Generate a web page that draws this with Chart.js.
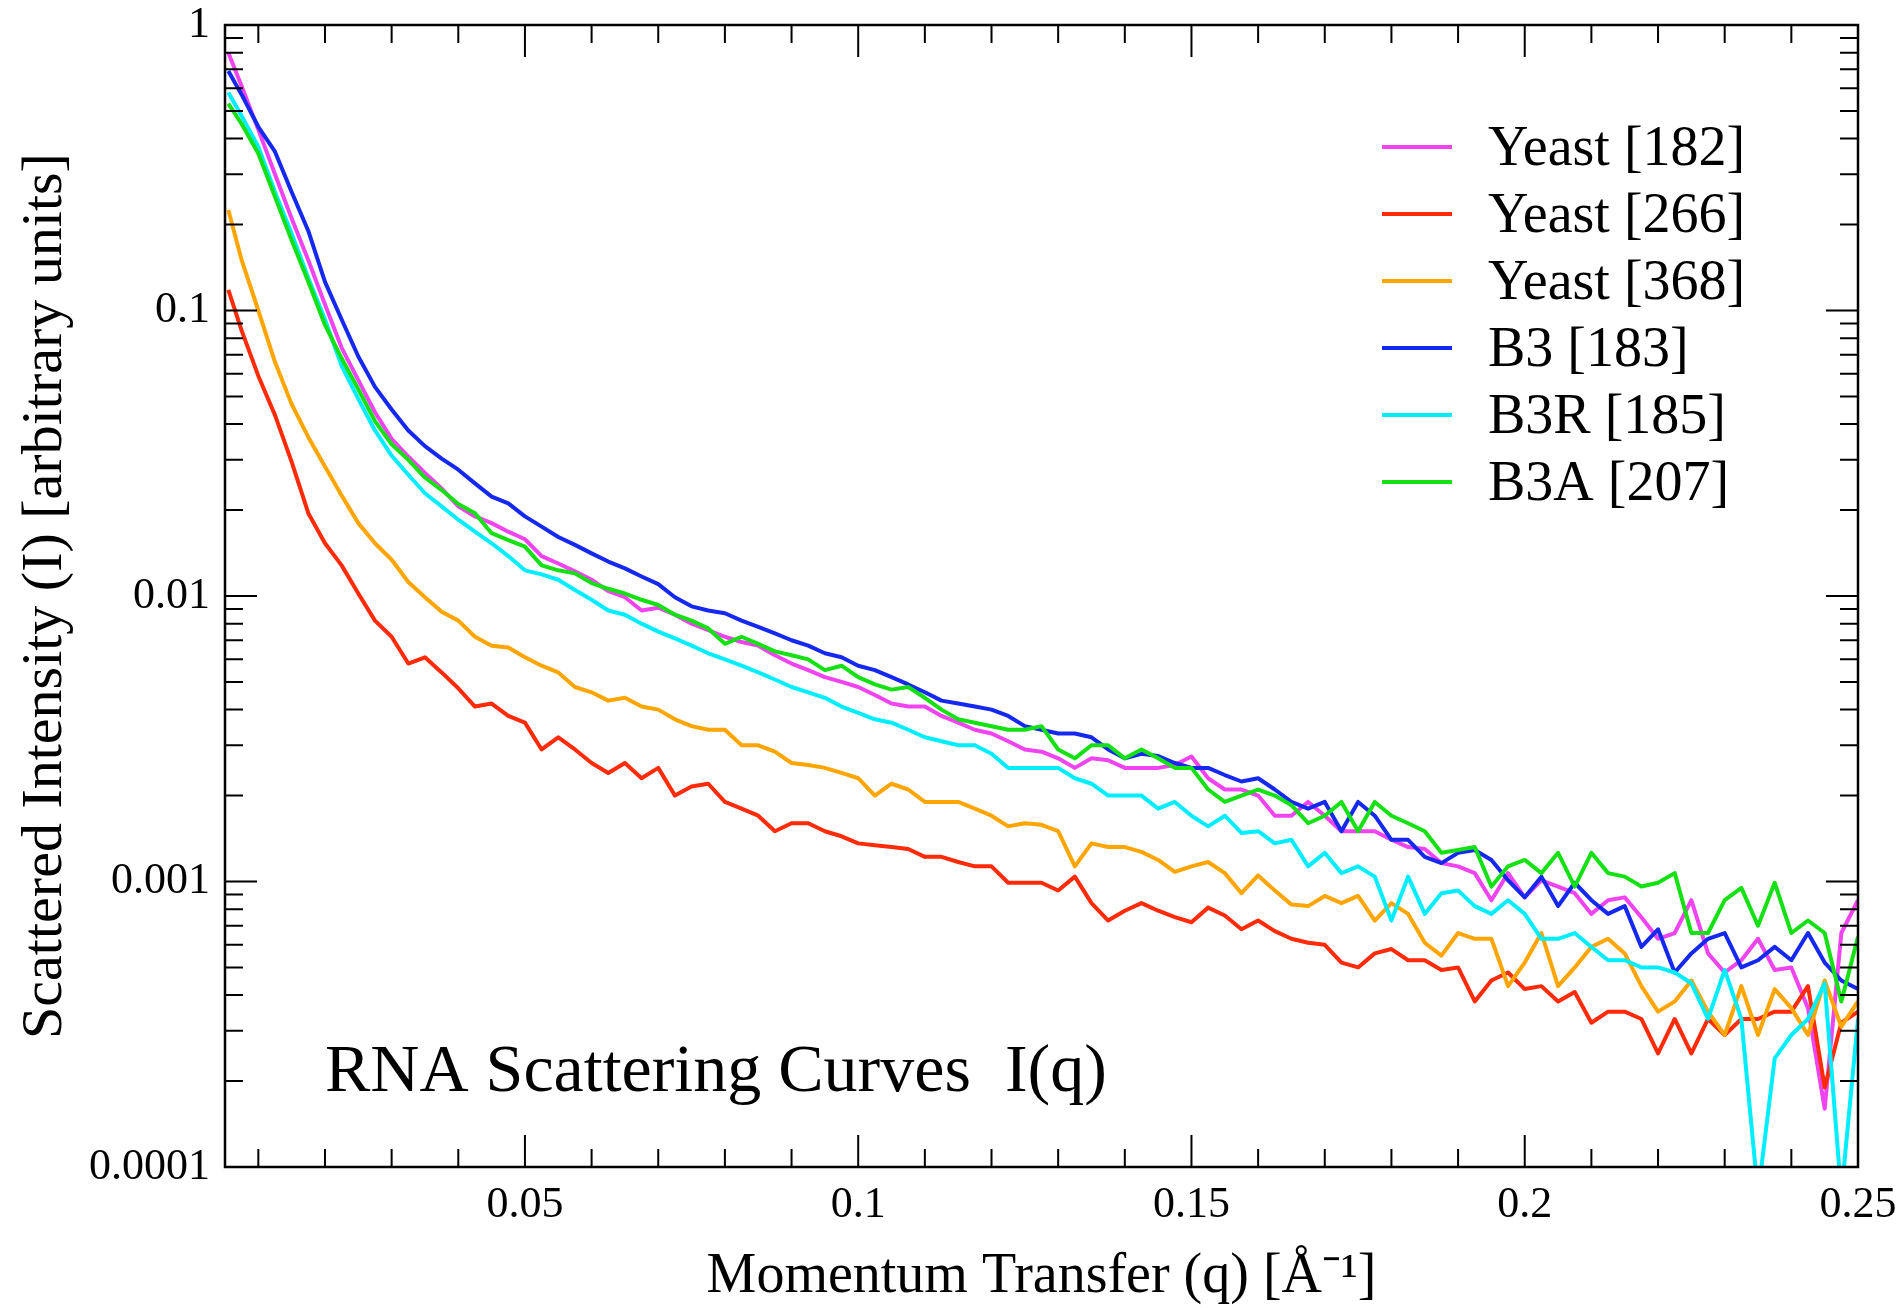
<!DOCTYPE html>
<html>
<head>
<meta charset="utf-8">
<title>RNA Scattering Curves</title>
<script src="https://cdn.jsdelivr.net/npm/chart.js@4.4.1/dist/chart.umd.min.js"></script>
<style>
  html, body { margin: 0; padding: 0; background: #fff; }
  #wrap { width: 1904px; height: 1308px; }
</style>
</head>
<body>
<div id="wrap"><canvas id="grafico"></canvas></div>
<script>
// momentum transfer q [1/A]
var q = [0.0055, 0.0075, 0.01, 0.0125, 0.015, 0.0175, 0.02, 0.0225, 0.025, 0.0275,
  0.03, 0.0325, 0.035, 0.0375, 0.04, 0.0425, 0.045, 0.0475, 0.05, 0.0525,
  0.055, 0.0575, 0.06, 0.0625, 0.065, 0.0675, 0.07, 0.0725, 0.075, 0.0775,
  0.08, 0.0825, 0.085, 0.0875, 0.09, 0.0925, 0.095, 0.0975, 0.1, 0.1025,
  0.105, 0.1075, 0.11, 0.1125, 0.115, 0.1175, 0.12, 0.1225, 0.125, 0.1275,
  0.13, 0.1325, 0.135, 0.1375, 0.14,
  0.1425, 0.145, 0.1475, 0.15, 0.1525, 0.155, 0.1575, 0.16, 0.1625, 0.165,
  0.1675, 0.17, 0.1725, 0.175, 0.1775, 0.18, 0.1825, 0.185, 0.1875, 0.19,
  0.1925, 0.195, 0.1975, 0.2, 0.2025, 0.205, 0.2075, 0.21, 0.2125, 0.215,
  0.2175, 0.22, 0.2225, 0.225, 0.2275, 0.23, 0.2325, 0.235, 0.2375, 0.24,
  0.2425, 0.245, 0.2475, 0.25];

var yeast182 = [0.80, 0.61, 0.43, 0.30, 0.21, 0.15, 0.105, 0.074, 0.057, 0.044,
  0.0355, 0.0308, 0.027, 0.0238, 0.0206, 0.019, 0.018, 0.0168, 0.0158, 0.0138,
  0.013, 0.0122, 0.0114, 0.0104, 0.0099, 0.0089, 0.0091, 0.0086, 0.0080, 0.0076,
  0.0072, 0.0069, 0.0067, 0.0062, 0.0058, 0.0055, 0.0052, 0.0050, 0.0048, 0.0045,
  0.0042, 0.0041, 0.0041, 0.0038, 0.0036, 0.0034, 0.0033, 0.0031, 0.0029, 0.00285,
  0.0027, 0.0025, 0.0027, 0.00266, 0.0025,
  0.0025, 0.0025, 0.00256, 0.00274, 0.0023, 0.0021, 0.0021, 0.0020, 0.0017, 0.0017,
  0.0019, 0.0017, 0.0015, 0.0015, 0.0015, 0.0014, 0.00132, 0.0013, 0.00116, 0.00113,
  0.00107, 0.00086, 0.00107, 0.00088, 0.00101, 0.00096, 0.00091, 0.00077, 0.00086, 0.00088,
  0.00075, 0.00063, 0.00066, 0.00086, 0.00056, 0.00048, 0.00053, 0.00063, 0.00049, 0.0005,
  0.00036, 0.00016, 0.00066, 0.00086];

var yeast266 = [0.118, 0.085, 0.059, 0.043, 0.0295, 0.0195, 0.0153, 0.0128, 0.0102, 0.0082,
  0.0072, 0.0058, 0.0061, 0.0054, 0.00475, 0.0041, 0.0042, 0.0038, 0.0036, 0.0029,
  0.0032, 0.0029, 0.0026, 0.0024, 0.0026, 0.0023, 0.0025, 0.0020, 0.00215, 0.0022,
  0.0019, 0.0018, 0.0017, 0.0015, 0.0016, 0.0016, 0.0015, 0.00144, 0.00136, 0.00134,
  0.00132, 0.0013, 0.00122, 0.00122, 0.00117, 0.00113, 0.00113, 0.00099, 0.00099, 0.00099,
  0.00093, 0.00104, 0.00084, 0.00073, 0.00079,
  0.00084, 0.00079, 0.00075, 0.00072, 0.00081, 0.00076, 0.00068, 0.00073, 0.00067, 0.00063,
  0.00061, 0.0006, 0.00052, 0.0005, 0.00056, 0.00058, 0.00053, 0.00053, 0.00049, 0.0005,
  0.00038, 0.00045, 0.00048, 0.00042, 0.00043, 0.00038, 0.00041, 0.00032, 0.00035, 0.00035,
  0.00033, 0.00025, 0.00033, 0.00025, 0.00033, 0.00029, 0.00033, 0.00033, 0.00035, 0.00035,
  0.00043, 0.00019, 0.00032, 0.00035];

var yeast368 = [0.225, 0.15, 0.10, 0.066, 0.047, 0.036, 0.0284, 0.0225, 0.018, 0.0153,
  0.0134, 0.0112, 0.0099, 0.0088, 0.0082, 0.0072, 0.0067, 0.0066, 0.0061, 0.0057,
  0.0054, 0.0048, 0.0046, 0.0043, 0.0044, 0.0041, 0.0040, 0.0037, 0.0035, 0.0034,
  0.0034, 0.0030, 0.0030, 0.00285, 0.0026, 0.00256, 0.0025, 0.0024, 0.0023, 0.0020,
  0.0022, 0.0021, 0.0019, 0.0019, 0.0019, 0.0018, 0.0017, 0.00156, 0.0016, 0.00158,
  0.0015, 0.00113, 0.00136, 0.00132, 0.00132,
  0.00127, 0.00119, 0.00108, 0.00113, 0.00117, 0.00107, 0.00091, 0.00105, 0.00093, 0.00083,
  0.00082, 0.00089, 0.00084, 0.00089, 0.00073, 0.00084, 0.00077, 0.00061, 0.00055, 0.00066,
  0.00063, 0.00063, 0.00043, 0.00052, 0.00066, 0.00043, 0.0005, 0.00059, 0.00063, 0.00056,
  0.00043, 0.00035, 0.00038, 0.00045, 0.00035, 0.00029, 0.00043, 0.00029, 0.00042, 0.00036,
  0.00029, 0.00045, 0.00031, 0.00038];

var b3 = [0.69, 0.57, 0.44, 0.36, 0.26, 0.19, 0.126, 0.093, 0.069, 0.054,
  0.045, 0.038, 0.0335, 0.0303, 0.0277, 0.0248, 0.0223, 0.0211, 0.019, 0.0175,
  0.0161, 0.0151, 0.0141, 0.0132, 0.0125, 0.0117, 0.011, 0.0099, 0.0092, 0.0089,
  0.0087, 0.0082, 0.0078, 0.0074, 0.0070, 0.0067, 0.0063, 0.0061, 0.0057, 0.0055,
  0.0052, 0.0049, 0.0046, 0.0043, 0.0042, 0.0041, 0.0040, 0.0038, 0.0035, 0.0034,
  0.0033, 0.0033, 0.0032, 0.0029, 0.0027,
  0.0028, 0.00275, 0.0026, 0.0025, 0.0025, 0.00236, 0.00224, 0.0023, 0.0021, 0.0019,
  0.0018, 0.0019, 0.0015, 0.0019, 0.0017, 0.0014, 0.0014, 0.00122, 0.00116, 0.00126,
  0.00129, 0.00119, 0.00101, 0.00088, 0.00104, 0.00082, 0.00099, 0.00086, 0.00077, 0.00082,
  0.00059, 0.00068, 0.00048, 0.00056, 0.00063, 0.00066, 0.0005, 0.00053, 0.00059, 0.00053,
  0.00066, 0.00052, 0.00045, 0.00042];

var b3r = [0.58, 0.48, 0.375, 0.26, 0.186, 0.13, 0.093, 0.064, 0.049, 0.038,
  0.031, 0.0266, 0.0229, 0.0206, 0.0185, 0.0168, 0.0153, 0.0138, 0.0123, 0.0119,
  0.0114, 0.0105, 0.0097, 0.0089, 0.0086, 0.008, 0.0075, 0.0071, 0.0067, 0.0063,
  0.0060, 0.0057, 0.0054, 0.0051, 0.0048, 0.0046, 0.0044, 0.0041, 0.0039, 0.0037,
  0.0036, 0.0034, 0.0032, 0.0031, 0.0030, 0.0030, 0.0028, 0.0025, 0.0025, 0.0025,
  0.0025, 0.0023, 0.0022, 0.0020, 0.0020,
  0.0020, 0.0018, 0.0019, 0.0017, 0.00156, 0.0017, 0.00148, 0.0015, 0.00136, 0.0014,
  0.00113, 0.00126, 0.00107, 0.00113, 0.00104, 0.00073, 0.00104, 0.00077, 0.00091, 0.00093,
  0.00082, 0.00077, 0.00086, 0.00077, 0.00063, 0.00063, 0.00066, 0.00059, 0.00053, 0.00053,
  0.0005, 0.0005, 0.00048, 0.00044, 0.00033, 0.00049, 0.00033, 0.00008, 0.00024, 0.00029,
  0.00033, 0.00044, 0.00008, 0.00033];

var b3a = [0.53, 0.45, 0.355, 0.25, 0.176, 0.126, 0.089, 0.068, 0.053, 0.041,
  0.034, 0.030, 0.026, 0.0235, 0.021, 0.0195, 0.0166, 0.0157, 0.0149, 0.0128,
  0.0123, 0.0120, 0.0111, 0.0106, 0.0102, 0.0097, 0.0093, 0.0086, 0.0082, 0.0077,
  0.0068, 0.0072, 0.0068, 0.0064, 0.0062, 0.0060, 0.0055, 0.0057, 0.0052, 0.0049,
  0.0047, 0.0048, 0.0044, 0.0040, 0.0037, 0.0036, 0.0035, 0.0034, 0.0034, 0.0035,
  0.0029, 0.0027, 0.0030, 0.0030, 0.0027,
  0.0029, 0.0027, 0.0025, 0.0025, 0.0021, 0.0019, 0.0020, 0.0021, 0.0020, 0.00185,
  0.0016, 0.0017, 0.0019, 0.0015, 0.0019, 0.0017, 0.0016, 0.0015, 0.00126, 0.00129,
  0.00132, 0.00096, 0.00113, 0.00119, 0.00107, 0.00126, 0.00096, 0.00126, 0.00107, 0.00104,
  0.00096, 0.00099, 0.00107, 0.00066, 0.00066, 0.00086, 0.00095, 0.0007, 0.00099, 0.00066,
  0.00073, 0.00066, 0.00038, 0.00064];

var nombres = ['Yeast [182]', 'Yeast [266]', 'Yeast [368]', 'B3 [183]', 'B3R [185]', 'B3A [207]'];
var colores = ['#f044f0', '#ff2a08', '#ffa500', '#1428f0', '#00eeff', '#14e014'];
var series = [yeast182, yeast266, yeast368, b3, b3r, b3a];

var xTicks = [0.05, 0.1, 0.15, 0.2, 0.25];
var yTicks = [0.0001, 0.001, 0.01, 0.1, 1];

Chart.defaults.font.family = '"Liberation Serif", "Times New Roman", serif';
Chart.defaults.color = '#000';

// box round the plot with inward ticks on all four sides
var marco = {
  id: 'marco',
  afterDatasetsDraw: function (chart) {
    var ctx = chart.ctx, a = chart.chartArea, x = chart.scales.x, y = chart.scales.y;
    ctx.save();
    ctx.strokeStyle = '#000';
    ctx.lineWidth = 2;
    ctx.beginPath();
    for (var i = 1; i <= 25; i++) {
      var px = x.getPixelForValue(i / 100);
      var lx = (i % 5 === 0) ? 32 : 18;
      ctx.moveTo(px, a.bottom); ctx.lineTo(px, a.bottom - lx);
      ctx.moveTo(px, a.top); ctx.lineTo(px, a.top + lx);
    }
    for (var e = -4; e <= 0; e++) {
      for (var m = 1; m <= 9; m++) {
        var v = m * Math.pow(10, e);
        if (v > 1.0001) break;
        var py = y.getPixelForValue(v);
        var ly = (m === 1) ? 32 : 18;
        ctx.moveTo(a.left, py); ctx.lineTo(a.left + ly, py);
        ctx.moveTo(a.right, py); ctx.lineTo(a.right - ly, py);
      }
    }
    ctx.stroke();
    ctx.lineWidth = 2.5;
    ctx.strokeRect(a.left, a.top, a.right - a.left, a.bottom - a.top);
    ctx.restore();
  },
  afterDraw: function (chart) {
    var ctx = chart.ctx;
    ctx.save();
    // legend inside the plot
    ctx.font = '56px "Liberation Serif", serif';
    ctx.textBaseline = 'alphabetic';
    chart.data.datasets.forEach(function (ds, i) {
      var yy = 147 + i * 67;
      ctx.strokeStyle = ds.borderColor;
      ctx.lineWidth = 4;
      ctx.beginPath();
      ctx.moveTo(1382, yy); ctx.lineTo(1452, yy);
      ctx.stroke();
      ctx.fillStyle = '#000';
      ctx.fillText(ds.label, 1488, yy + 18);
    });
    // caption
    ctx.font = '68px "Liberation Serif", serif';
    ctx.fillText('RNA Scattering Curves  I(q)', 325, 1091);
    ctx.restore();
  }
};

var ctx = document.getElementById('grafico');

var grafico = new Chart(ctx, {
  type: 'line',
  data: {
    datasets: series.map(function (s, i) {
      return {
        label: nombres[i],
        data: q.map(function (v, j) { return { x: v, y: s[j] }; }),
        borderColor: colores[i],
        backgroundColor: colores[i],
        borderWidth: 4,
        borderJoinStyle: 'round',
        pointRadius: 0,
        tension: 0,
        fill: false,
        order: -i // later sets drawn on top
      };
    })
  },
  options: {
    responsive: true,
    maintainAspectRatio: false,
    animation: false,
    events: [],
    layout: { padding: { top: 25, right: 46, bottom: 0, left: 0 } },
    plugins: {
      legend: { display: false },
      tooltip: { enabled: false }
    },
    scales: {
      x: {
        type: 'linear',
        min: 0.005,
        max: 0.25,
        grid: { display: false, drawTicks: false },
        border: { display: false },
        ticks: {
          font: { size: 44 },
          color: '#000',
          padding: 12,
          autoSkip: false,
          maxRotation: 0,
          callback: function (v) { return String(v); }
        },
        afterBuildTicks: function (s) {
          s.ticks = xTicks.map(function (v) { return { value: v }; });
        },
        title: {
          display: true,
          text: 'Momentum Transfer (q) [Å⁻¹]',
          font: { size: 56, lineHeight: 1.1 },
          color: '#000',
          padding: { top: 0, bottom: 0 }
        },
        afterFit: function (s) {
          s.height = 141;
          s.paddingLeft = 0;
          s.paddingRight = 0;
        }
      },
      y: {
        type: 'logarithmic',
        min: 0.0001,
        max: 1,
        grid: { display: false, drawTicks: false },
        border: { display: false },
        ticks: {
          font: { size: 44 },
          color: '#000',
          padding: 15,
          autoSkip: false,
          callback: function (v) { return String(v); }
        },
        afterBuildTicks: function (s) {
          s.ticks = yTicks.map(function (v) { return { value: v }; });
        },
        title: {
          display: true,
          text: 'Scattered Intensity (I) [arbitrary units]',
          font: { size: 58, lineHeight: 1.2 },
          color: '#000',
          padding: { top: 11, bottom: 0 }
        },
        afterFit: function (s) {
          s.width = 225;
          s.paddingTop = 0;
          s.paddingBottom = 0;
        }
      }
    }
  },
  plugins: [marco]
});
</script>
</body>
</html>
